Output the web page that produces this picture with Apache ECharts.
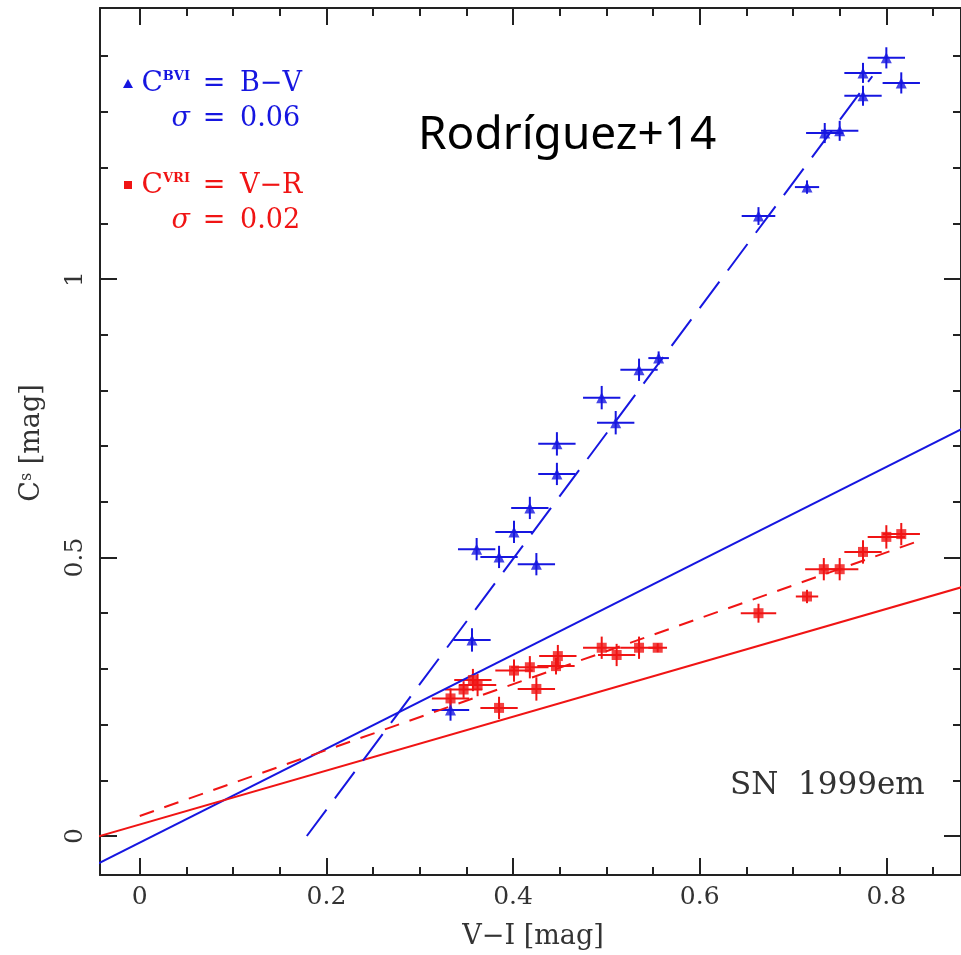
<!DOCTYPE html>
<html>
<head>
<meta charset="utf-8">
<title>SN 1999em - C^s vs V-I</title>
<script src="https://cdn.jsdelivr.net/npm/echarts@6/dist/echarts.min.js"></script>
<style>
  html, body { margin: 0; padding: 0; background: #fff; }
  #main { width: 961px; height: 955px; }
</style>
</head>
<body>
<div id="main"></div>
<script>
// axis ranges
var X_MIN = -0.0426, X_MAX = 0.88;
var Y_MIN = -0.07, Y_MAX = 1.4865;
var xMajor = [0, 0.2, 0.4, 0.6, 0.8];
var xMinor = [0.05, 0.1, 0.15, 0.25, 0.3, 0.35, 0.45, 0.5, 0.55, 0.65, 0.7, 0.75, 0.85];
var yMajor = [0, 0.5, 1];
var yMinor = [0.1, 0.2, 0.3, 0.4, 0.6, 0.7, 0.8, 0.9, 1.1, 1.2, 1.3, 1.4];

// C^BVI = B-V (blue triangles)
var blueX  = [0.333, 0.356, 0.361, 0.385, 0.401, 0.418, 0.425, 0.447, 0.447, 0.495, 0.510,
              0.535, 0.556, 0.663, 0.715, 0.734, 0.750, 0.775, 0.775, 0.800, 0.816];
var blueY  = [0.226, 0.352, 0.515, 0.501, 0.546, 0.589, 0.488, 0.650, 0.704, 0.787, 0.742,
              0.837, 0.858, 1.113, 1.165, 1.262, 1.266, 1.329, 1.370, 1.397, 1.352];
var blueEx = [0.02, 0.02, 0.02, 0.02, 0.02, 0.02, 0.02, 0.02, 0.02, 0.02, 0.02,
              0.02, 0.011, 0.018, 0.013, 0.02, 0.02, 0.02, 0.02, 0.02, 0.02];
var blueEy = [0.019, 0.021, 0.02, 0.02, 0.02, 0.02, 0.02, 0.02, 0.021, 0.021, 0.021,
              0.02, 0.012, 0.016, 0.012, 0.018, 0.018, 0.018, 0.018, 0.019, 0.019];

// C^VRI = V-R (red squares)
var redX  = [0.333, 0.347, 0.357, 0.362, 0.385, 0.401, 0.418, 0.425, 0.446, 0.448, 0.495,
             0.511, 0.535, 0.555, 0.663, 0.715, 0.733, 0.750, 0.775, 0.800, 0.816];
var redY  = [0.247, 0.263, 0.280, 0.271, 0.230, 0.297, 0.303, 0.264, 0.305, 0.323, 0.338,
             0.325, 0.338, 0.338, 0.400, 0.430, 0.479, 0.479, 0.510, 0.537, 0.542];
var redEx = [0.02, 0.02, 0.02, 0.02, 0.02, 0.02, 0.02, 0.02, 0.02, 0.02, 0.02,
             0.02, 0.02, 0.01, 0.019, 0.012, 0.02, 0.02, 0.02, 0.02, 0.02];
var redEy = [0.018, 0.015, 0.02, 0.02, 0.02, 0.02, 0.02, 0.021, 0.015, 0.02, 0.02,
             0.02, 0.02, 0.008, 0.017, 0.012, 0.02, 0.02, 0.021, 0.021, 0.02];

// fitted lines (end points)
var blueDashed = [[0.179, 0.0], [0.785, 1.364]];
var blueSolid  = [[-0.05, -0.054], [0.9, 0.747]];
var redDashed  = [[0.0, 0.036], [0.837, 0.531]];
var redSolid   = [[-0.05, -0.0036], [0.9, 0.456]];

var BLUE = '#1616e0', RED = '#f01414', INK = '#222';
var SERIF = 'DejaVu Serif';

function pack(xs, ys, exs, eys) {
    var out = [];
    for (var i = 0; i < xs.length; i++) out.push([xs[i], ys[i], exs[i], eys[i]]);
    return out;
}
var blueData = pack(blueX, blueY, blueEx, blueEy);
var redData = pack(redX, redY, redEx, redEy);

function errBars(color) {
    return function (params, api) {
        var x = api.value(0), y = api.value(1), ex = api.value(2), ey = api.value(3);
        var l = api.coord([x - ex, y]), r = api.coord([x + ex, y]);
        var b = api.coord([x, y - ey]), t = api.coord([x, y + ey]);
        var st = { stroke: color, lineWidth: 2 };
        return {
            type: 'group',
            children: [
                { type: 'line', shape: { x1: l[0], y1: l[1], x2: r[0], y2: r[1] }, style: st },
                { type: 'line', shape: { x1: b[0], y1: b[1], x2: t[0], y2: t[1] }, style: st }
            ]
        };
    };
}

function xAx(grid, pos, ticks, len, labels) {
    return {
        type: 'value', gridIndex: grid, position: pos, min: X_MIN, max: X_MAX,
        axisLine: { show: len > 10, onZero: false, lineStyle: { color: INK, width: 2 } },
        axisTick: { show: true, inside: true, length: len, customValues: ticks, lineStyle: { color: INK, width: 2 } },
        axisLabel: labels ? {
            customValues: ticks, margin: 10, color: '#333', fontFamily: SERIF, fontSize: 25,
            formatter: function (v) { return String(+(+v).toFixed(2)); }
        } : { show: false },
        splitLine: { show: false }
    };
}
function yAx(grid, pos, ticks, len, labels) {
    return {
        type: 'value', gridIndex: grid, position: pos, min: Y_MIN, max: Y_MAX,
        axisLine: { show: len > 10, onZero: false, lineStyle: { color: INK, width: 2 } },
        axisTick: { show: true, inside: true, length: len, customValues: ticks, lineStyle: { color: INK, width: 2 } },
        axisLabel: labels ? {
            customValues: ticks, rotate: 90, margin: 12, color: '#333', fontFamily: SERIF, fontSize: 25,
            formatter: function (v) { return String(+(+v).toFixed(2)); }
        } : { show: false },
        splitLine: { show: false }
    };
}

var gridBox = { left: 100, top: 8, width: 867, height: 867 };

var chart = echarts.init(document.getElementById('main'));
chart.setOption({
    animation: false,
    backgroundColor: '#fff',
    grid: [gridBox, gridBox],
    xAxis: [
        xAx(0, 'bottom', xMajor, 17, true),
        xAx(0, 'top', xMajor, 17, false),
        xAx(1, 'bottom', xMinor, 8, false),
        xAx(1, 'top', xMinor, 8, false)
    ],
    yAxis: [
        yAx(0, 'left', yMajor, 17, true),
        yAx(0, 'right', yMajor, 17, false),
        yAx(1, 'left', yMinor, 8, false),
        yAx(1, 'right', yMinor, 8, false)
    ],
    series: [
        { type: 'line', data: blueSolid, symbol: 'none', lineStyle: { color: BLUE, width: 2 } },
        { type: 'line', data: redSolid, symbol: 'none', lineStyle: { color: RED, width: 2 } },
        { type: 'line', data: blueDashed, symbol: 'none', lineStyle: { color: BLUE, width: 2, type: [33, 14] } },
        { type: 'line', data: redDashed, symbol: 'none', lineStyle: { color: RED, width: 2, type: [15, 11] } },
        { type: 'custom', data: blueData, renderItem: errBars(BLUE), encode: { x: 0, y: 1 }, z: 3 },
        { type: 'custom', data: redData, renderItem: errBars(RED), encode: { x: 0, y: 1 }, z: 3 },
        { type: 'scatter', data: blueData, symbol: 'triangle', symbolSize: 11, itemStyle: { color: BLUE }, z: 4 },
        { type: 'scatter', data: redData, symbol: 'rect', symbolSize: 10, itemStyle: { color: RED }, z: 4 }
    ],
    graphic: [
        // legend block
        { type: 'polygon', shape: { points: [[123, 88], [133, 88], [128, 79]] }, style: { fill: BLUE } },
        { type: 'text', x: 190, y: 84, style: {
            text: '{c|C}{s|BVI}', align: 'right', verticalAlign: 'middle',
            rich: { c: { fontFamily: SERIF, fontSize: 28, fill: BLUE },
                    s: { fontFamily: SERIF, fontSize: 13, fontWeight: 'bold', fill: BLUE, verticalAlign: 'top' } } } },
        { type: 'text', x: 214, y: 84, style: { text: '=', align: 'center', verticalAlign: 'middle', font: '27px "DejaVu Serif"', fill: BLUE } },
        { type: 'text', x: 240, y: 84, style: { text: 'B\u2212V', align: 'left', verticalAlign: 'middle', font: '27px "DejaVu Serif"', fill: BLUE } },
        { type: 'text', x: 190, y: 119, style: { text: '\u03c3', align: 'right', verticalAlign: 'middle', font: 'italic 27px "DejaVu Serif"', fill: BLUE } },
        { type: 'text', x: 214, y: 119, style: { text: '=', align: 'center', verticalAlign: 'middle', font: '27px "DejaVu Serif"', fill: BLUE } },
        { type: 'text', x: 240, y: 119, style: { text: '0.06', align: 'left', verticalAlign: 'middle', font: '27px "DejaVu Serif"', fill: BLUE } },

        { type: 'rect', shape: { x: 124, y: 181, width: 8, height: 8 }, style: { fill: RED } },
        { type: 'text', x: 190, y: 186, style: {
            text: '{c|C}{s|VRI}', align: 'right', verticalAlign: 'middle',
            rich: { c: { fontFamily: SERIF, fontSize: 28, fill: RED },
                    s: { fontFamily: SERIF, fontSize: 13, fontWeight: 'bold', fill: RED, verticalAlign: 'top' } } } },
        { type: 'text', x: 214, y: 186, style: { text: '=', align: 'center', verticalAlign: 'middle', font: '27px "DejaVu Serif"', fill: RED } },
        { type: 'text', x: 240, y: 186, style: { text: 'V\u2212R', align: 'left', verticalAlign: 'middle', font: '27px "DejaVu Serif"', fill: RED } },
        { type: 'text', x: 190, y: 221, style: { text: '\u03c3', align: 'right', verticalAlign: 'middle', font: 'italic 27px "DejaVu Serif"', fill: RED } },
        { type: 'text', x: 214, y: 221, style: { text: '=', align: 'center', verticalAlign: 'middle', font: '27px "DejaVu Serif"', fill: RED } },
        { type: 'text', x: 240, y: 221, style: { text: '0.02', align: 'left', verticalAlign: 'middle', font: '27px "DejaVu Serif"', fill: RED } },

        // annotations
        { type: 'text', x: 418, y: 136, style: { text: 'Rodr\u00edguez+14', align: 'left', verticalAlign: 'middle', font: '46px "Noto Sans"', fill: '#000' } },
        { type: 'text', x: 730, y: 786, style: { text: 'SN  1999em', align: 'left', verticalAlign: 'middle', font: '31px "DejaVu Serif"', fill: '#333' } },

        // axis titles
        { type: 'text', x: 533, y: 937, style: { text: 'V\u2212I [mag]', align: 'center', verticalAlign: 'middle', font: '27px "DejaVu Serif"', fill: '#333' } },
        { type: 'text', x: 32, y: 443, rotation: Math.PI / 2, style: {
            text: '{a|C}{s|s}{a| [mag]}', align: 'center', verticalAlign: 'middle',
            rich: { a: { fontFamily: SERIF, fontSize: 27, fill: '#333' },
                    s: { fontFamily: SERIF, fontSize: 16, fill: '#333', verticalAlign: 'top' } } } }
    ]
});
</script>
</body>
</html>
